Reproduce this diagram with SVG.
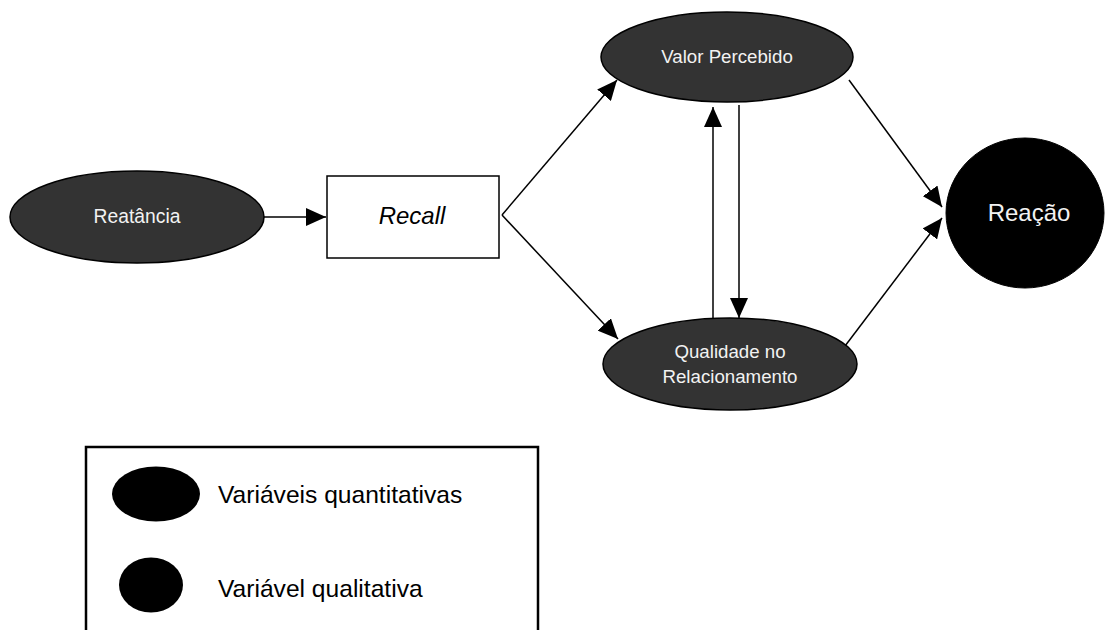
<svg xmlns="http://www.w3.org/2000/svg" width="1109" height="630" viewBox="0 0 1109 630">
<style>
  .node { fill: #333333; stroke: #000; stroke-width: 1.5; }
  .dark { fill: #000; stroke: #000; stroke-width: 1; }
  .lbl { font-family: "Liberation Sans", Arial, sans-serif; fill: #f2f2f2; text-anchor: middle; font-size: 18.7px; }
  .leg { font-family: "Liberation Sans", Arial, sans-serif; fill: #000; font-size: 24.6px; }
  .edge { stroke: #000; stroke-width: 1.5; fill: none; marker-end: url(#ah); }
</style>
<defs>
  <marker id="ah" markerUnits="userSpaceOnUse" markerWidth="20" markerHeight="18" refX="20" refY="9" orient="auto">
    <path d="M0,0 L20,9 L0,18 Z" fill="#000"/>
  </marker>
</defs>
<rect width="1109" height="630" fill="#fff"/>
<g id="connectors">
  <line class="edge" x1="263" y1="217" x2="326" y2="217"/>
  <line class="edge" x1="502" y1="215" x2="617" y2="80"/>
  <line class="edge" x1="502" y1="215" x2="618" y2="339"/>
  <line class="edge" x1="713" y1="318" x2="713" y2="107"/>
  <line class="edge" x1="739" y1="105" x2="739" y2="318"/>
  <line class="edge" x1="849" y1="80" x2="942" y2="207"/>
  <line class="edge" x1="842" y1="350" x2="942" y2="218"/>
</g>
<g id="reatancia">
  <ellipse class="node" cx="137" cy="217" rx="127" ry="46"/>
  <text class="lbl" x="137" y="223" style="font-size:19.3px">Reatância</text>
</g>
<g id="recall">
  <rect x="327" y="176" width="172" height="82" fill="#fff" stroke="#000" stroke-width="1.5"/>
  <text x="412" y="224" font-family="'Liberation Sans', Arial, sans-serif" font-size="24" font-style="italic" text-anchor="middle" fill="#000">Recall</text>
</g>
<g id="valor">
  <ellipse class="node" cx="727" cy="57" rx="126" ry="45"/>
  <text class="lbl" x="727" y="63">Valor Percebido</text>
</g>
<g id="qualidade">
  <ellipse class="node" cx="730" cy="364" rx="127" ry="46"/>
  <text class="lbl" x="730" y="358">Qualidade no</text>
  <text class="lbl" x="730" y="383">Relacionamento</text>
</g>
<g id="reacao">
  <ellipse class="dark" cx="1025" cy="213" rx="79" ry="75"/>
  <text class="lbl" x="1029" y="221" style="font-size:24px">Reação</text>
</g>
<g id="legend">
  <path d="M86,630 L86,447 L538,447 L538,630" fill="none" stroke="#000" stroke-width="2.5"/>
  <ellipse cx="156" cy="494" rx="44" ry="27.5" fill="#000"/>
  <text class="leg" x="218" y="503">Variáveis quantitativas</text>
  <ellipse cx="151" cy="585" rx="32" ry="27.5" fill="#000"/>
  <text class="leg" x="218" y="597">Variável qualitativa</text>
</g>
</svg>
